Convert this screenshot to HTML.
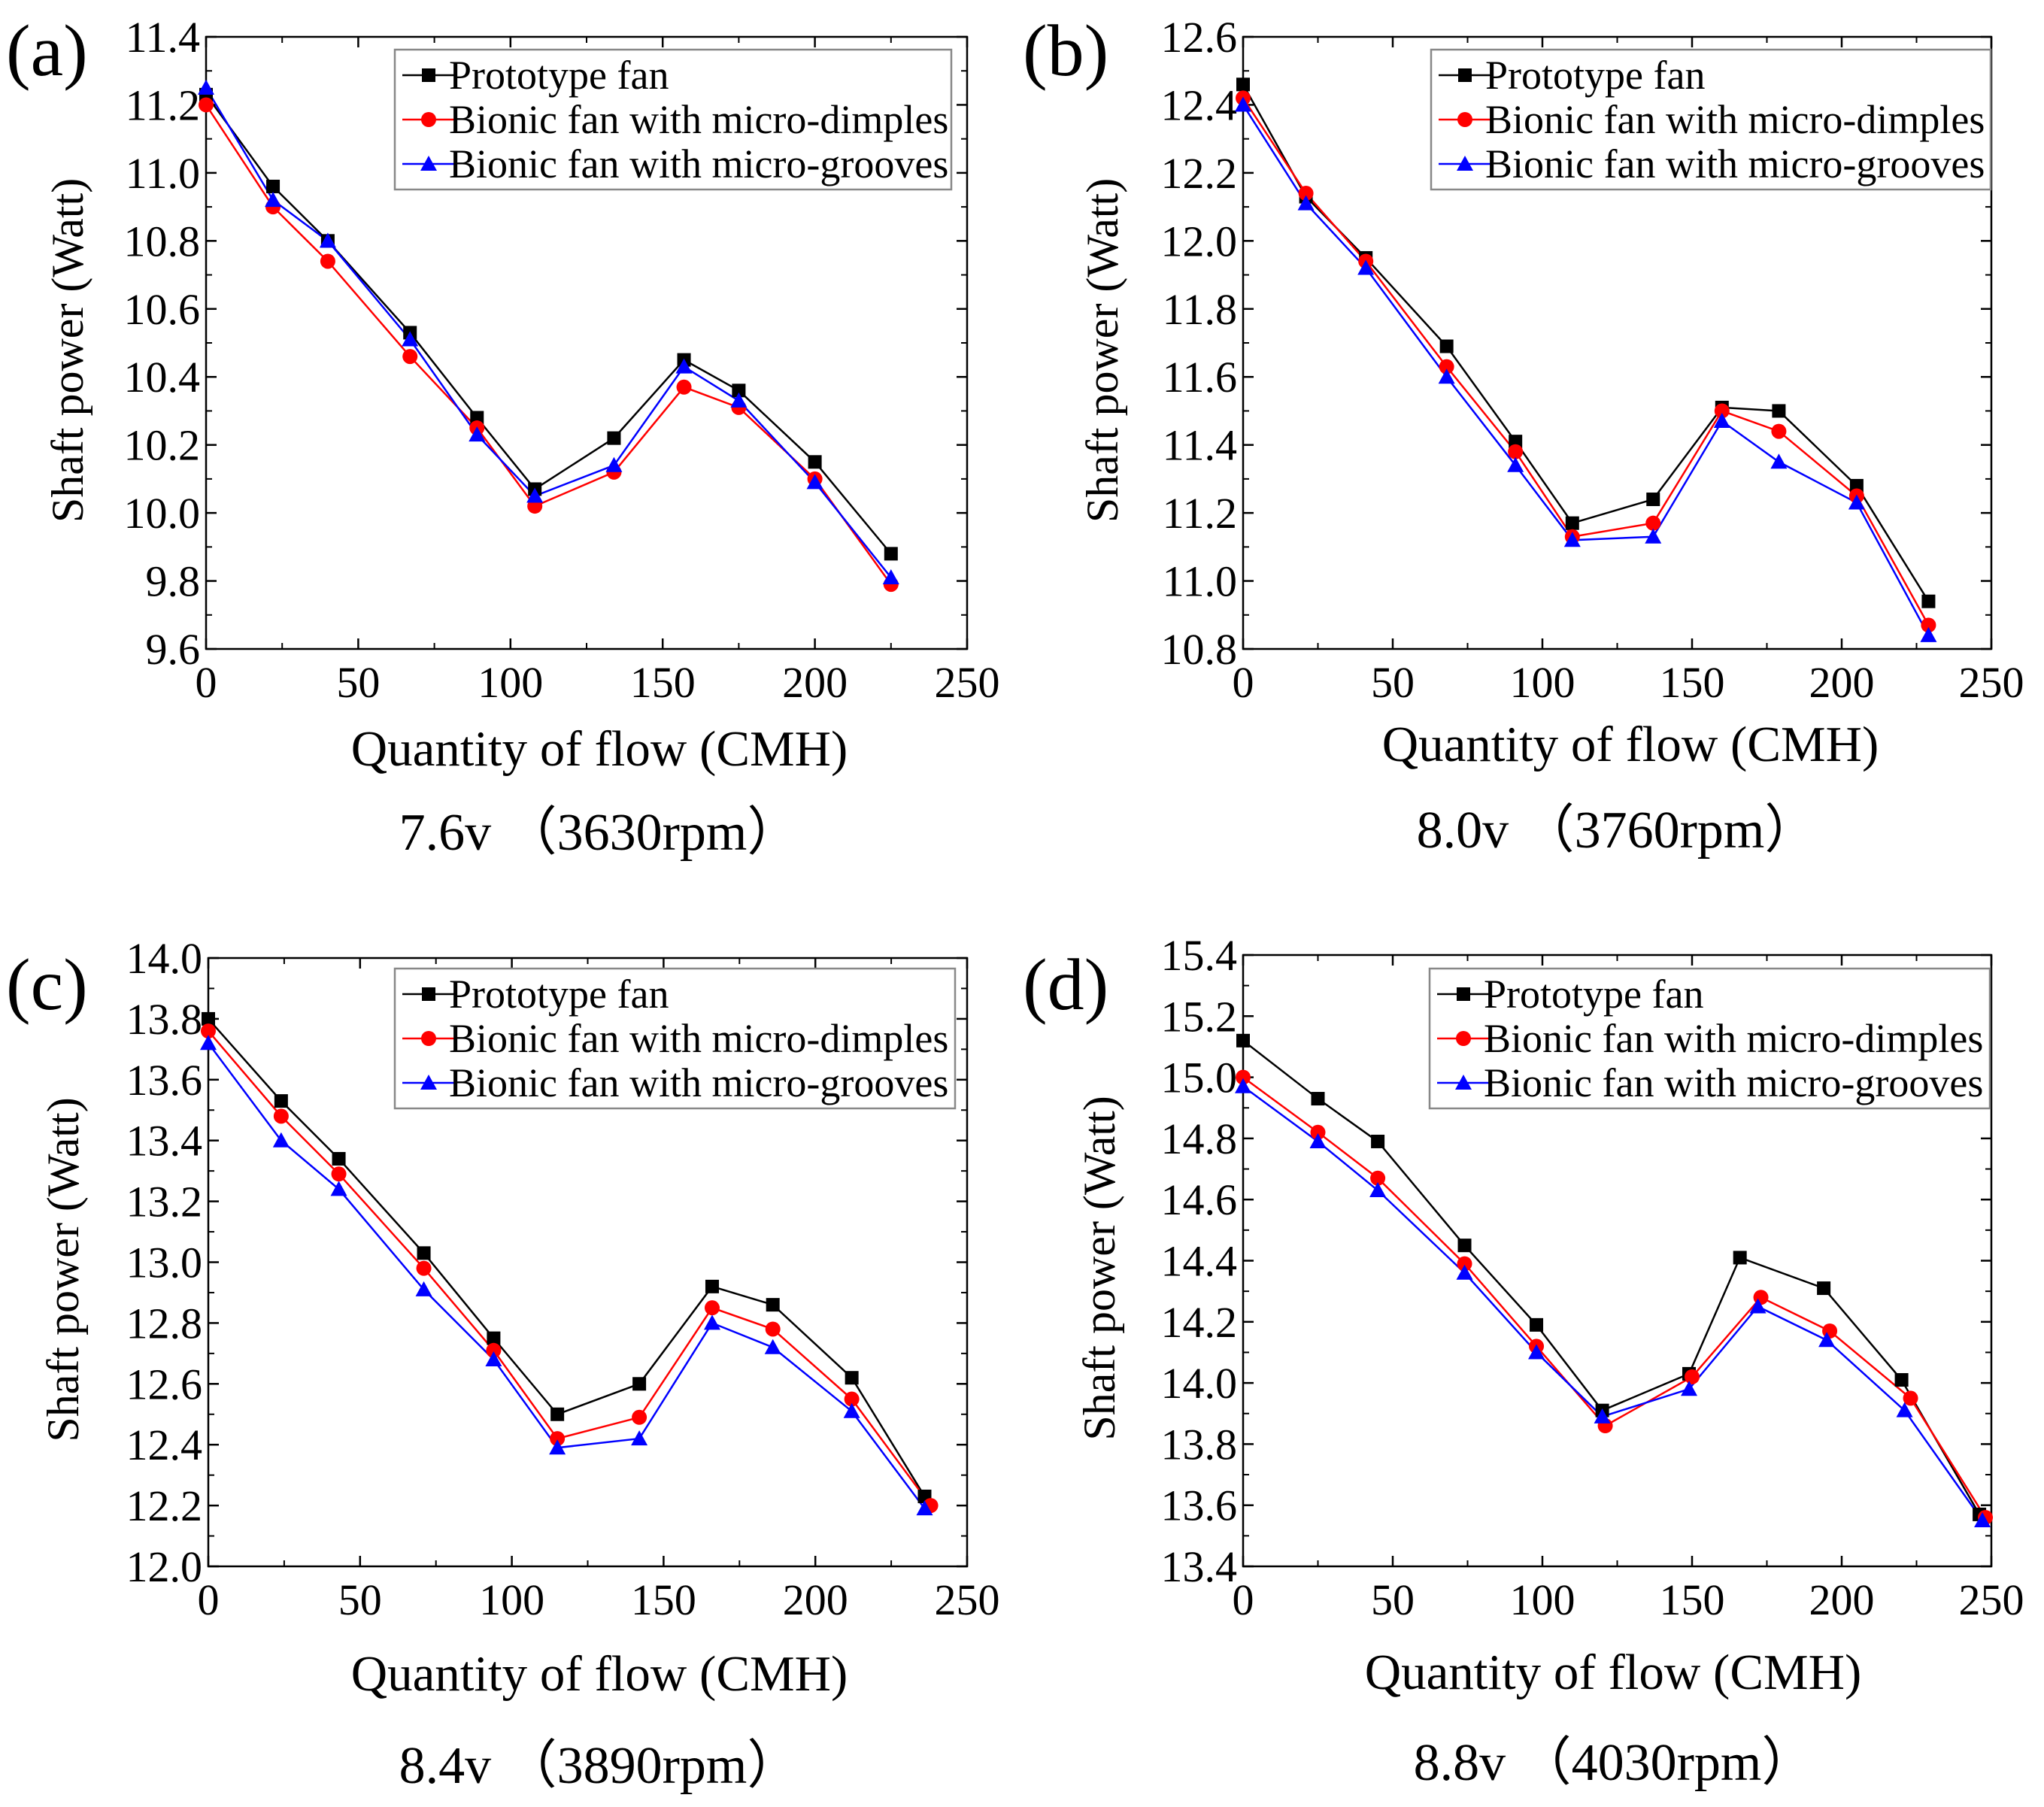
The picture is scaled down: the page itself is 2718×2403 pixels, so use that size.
<!DOCTYPE html>
<html><head><meta charset="utf-8">
<style>
html,body{margin:0;padding:0;background:#fff;}
svg{display:block;}
text{font-family:"Liberation Serif",serif;fill:#000;}
</style></head>
<body>
<svg id="fig" width="2718" height="2403" viewBox="0 0 2718 2403" xmlns="http://www.w3.org/2000/svg"></svg>
<script>
// ---- data ----
const xTicks = [0,50,100,150,200,250];
const legendNames = ["Prototype fan","Bionic fan with micro-dimples","Bionic fan with micro-grooves"];

const aX = [0,22,40,67,89,108,134,157,175,200,225];
const aProto = [11.23,10.96,10.80,10.53,10.28,10.07,10.22,10.45,10.36,10.15,9.88];
const aDimp  = [11.20,10.90,10.74,10.46,10.25,10.02,10.12,10.37,10.31,10.10,9.79];
const aGroov = [11.25,10.92,10.80,10.51,10.23,10.05,10.14,10.43,10.33,10.09,9.81];
const aYTicks = [9.6,9.8,10.0,10.2,10.4,10.6,10.8,11.0,11.2,11.4];

const bX = [0,21,41,68,91,110,137,160,179,205,229];
const bProto = [12.46,12.13,11.95,11.69,11.41,11.17,11.24,11.51,11.50,11.28,10.94];
const bDimp  = [12.42,12.14,11.94,11.63,11.38,11.13,11.17,11.50,11.44,11.25,10.87];
const bGroov = [12.40,12.11,11.92,11.60,11.34,11.12,11.13,11.47,11.35,11.23,10.84];
const bYTicks = [10.8,11.0,11.2,11.4,11.6,11.8,12.0,12.2,12.4,12.6];

const cX = [0,24,43,71,94,115,142,166,186,212,236];
const cXr = [0,24,43,71,94,115,142,166,186,212,238];
const cProto = [13.80,13.53,13.34,13.03,12.75,12.50,12.60,12.92,12.86,12.62,12.23];
const cDimp  = [13.76,13.48,13.29,12.98,12.71,12.42,12.49,12.85,12.78,12.55,12.20];
const cGroov = [13.72,13.40,13.24,12.91,12.68,12.39,12.42,12.80,12.72,12.51,12.19];
const cYTicks = [12.0,12.2,12.4,12.6,12.8,13.0,13.2,13.4,13.6,13.8,14.0];

const dXb = [0,25,45,74,98,120,149,166,194,220,246];
const dXr = [0,25,45,74,98,121,150,173,196,223,248];
const dXg = [0,25,45,74,98,120,149,172,195,221,247];
const dProto = [15.12,14.93,14.79,14.45,14.19,13.91,14.03,14.41,14.31,14.01,13.57];
const dDimp  = [15.00,14.82,14.67,14.39,14.12,13.86,14.02,14.28,14.17,13.95,13.56];
const dGroov = [14.97,14.79,14.63,14.36,14.10,13.89,13.98,14.25,14.14,13.91,13.55];
const dYTicks = [13.4,13.6,13.8,14.0,14.2,14.4,14.6,14.8,15.0,15.2,15.4];

const NS="http://www.w3.org/2000/svg";
const svg=document.getElementById('fig');
function el(tag,attrs,parent,txt){const e=document.createElementNS(NS,tag);for(const k in attrs)e.setAttribute(k,attrs[k]);if(txt!==undefined)e.textContent=txt;(parent||svg).appendChild(e);return e;}

function panel(o){
  const g=el('g',{});
  
  
  const ymin=o.yTicks[0], ymax=o.yTicks[o.yTicks.length-1];
  const sx=v=>o.L+(v-0)/(250)*(o.R-o.L);
  const sy=v=>o.B-(v-ymin)/(ymax-ymin)*(o.B-o.T);
  const fr=el('rect',{x:o.L,y:o.T,width:o.R-o.L,height:o.B-o.T,fill:'none',stroke:'#000','stroke-width':2.5},g);
  
  
  xTicks.forEach((t,i)=>{
    const x=sx(t);
    el('line',{x1:x,y1:o.B,x2:x,y2:o.B-14,stroke:'#000','stroke-width':2.5},g);
    el('line',{x1:x,y1:o.T,x2:x,y2:o.T+14,stroke:'#000','stroke-width':2.5},g);
    if(i<xTicks.length-1){const m=sx(t+25);
      el('line',{x1:m,y1:o.B,x2:m,y2:o.B-8,stroke:'#000','stroke-width':2},g);
      el('line',{x1:m,y1:o.T,x2:m,y2:o.T+8,stroke:'#000','stroke-width':2},g);}
    const tl=el('text',{x:x,y:o.B+64,'font-size':58,'text-anchor':'middle'},g,String(t));
    
    
  });
  o.yTicks.forEach((t,i)=>{
    const y=sy(t);
    el('line',{x1:o.L,y1:y,x2:o.L+14,y2:y,stroke:'#000','stroke-width':2.5},g);
    el('line',{x1:o.R,y1:y,x2:o.R-14,y2:y,stroke:'#000','stroke-width':2.5},g);
    if(i<o.yTicks.length-1){const m=sy(t+0.1);
      el('line',{x1:o.L,y1:m,x2:o.L+8,y2:m,stroke:'#000','stroke-width':2},g);
      el('line',{x1:o.R,y1:m,x2:o.R-8,y2:m,stroke:'#000','stroke-width':2},g);}
    const tl=el('text',{x:o.L-8,y:y+20,'font-size':58,'text-anchor':'end'},g,t.toFixed(1));
    
    
  });
  const series=[
    {x:o.xb,y:o.proto,c:'#000',m:'sq',n:'prototype'},
    {x:o.xr,y:o.dimp,c:'#ff0000',m:'ci',n:'micro-dimples'},
    {x:o.xg,y:o.groov,c:'#0000ff',m:'tr',n:'micro-grooves'}];
  series.forEach(s=>{
    const pts=s.y.map((v,i)=>sx(s.x[i])+','+sy(v)).join(' ');
    const pl=el('polyline',{points:pts,fill:'none',stroke:s.c,'stroke-width':2.5},g);
    
    
  });
  series.forEach(s=>{
    s.y.forEach((v,i)=>{
      const mk=marker(s.m,sx(s.x[i]),sy(v),s.c,g);
      
      
    });
  });
  const lg=el('g',{},g);
  
  
  el('rect',{x:o.lx,y:o.ly,width:o.lw,height:186,fill:'#fff',stroke:'#888','stroke-width':2.5},lg);
  series.forEach((s,i)=>{
    const y=o.ly+34+i*59;
    el('line',{x1:o.lx+10,y1:y,x2:o.lx+80,y2:y,stroke:s.c,'stroke-width':2.5},lg);
    marker(s.m,o.lx+45,y,s.c,lg);
    const t=el('text',{x:o.lx+72,y:y+18,'font-size':54},lg,legendNames[i]);
    
    
  });
  const xt=el('text',{x:o.xtx,y:o.xty,'font-size':67,'text-anchor':'middle'},g,'Quantity of flow (CMH)');
  
  
  const yt=el('text',{x:0,y:0,'font-size':60,'text-anchor':'middle','font-family':'Liberation Sans, sans-serif',transform:`translate(${o.ytx},${(o.T+o.B)/2+10}) rotate(-90)`},g,'Shaft power (Watt)');
  
  
  const cap=el('text',{x:o.capx,y:o.capy,'font-size':70,'text-anchor':'middle'},g,o.cap);
  
  
  const pl=el('text',{x:o.plx,y:o.ply,'font-size':98},g,'('+o.id+')');
  
  
}
function marker(m,x,y,c,p){
  if(m==='sq')return el('rect',{x:x-9,y:y-9,width:18,height:18,fill:c},p);
  if(m==='ci')return el('circle',{cx:x,cy:y,r:10,fill:c},p);
  return el('polygon',{points:`${x},${y-11} ${x-11},${y+9} ${x+11},${y+9}`,fill:c},p);
}

panel({id:'a',L:274,R:1286,T:49,B:863,yTicks:aYTicks,xb:aX,xr:aX,xg:aX,proto:aProto,dimp:aDimp,groov:aGroov,
  lx:525,ly:66,lw:740,xtx:797,xty:1018,ytx:110,capx:797,capy:1130,cap:'7.6v （3630rpm）',plx:8,ply:100});
panel({id:'b',L:1653,R:2648,T:49,B:863,yTicks:bYTicks,xb:bX,xr:bX,xg:bX,proto:bProto,dimp:bDimp,groov:bGroov,
  lx:1903,ly:66,lw:744,xtx:2168,xty:1012,ytx:1486,capx:2150,capy:1127,cap:'8.0v （3760rpm）',plx:1360,ply:100});
panel({id:'c',L:277,R:1286,T:1274,B:2083,yTicks:cYTicks,xb:cX,xr:cXr,xg:cX,proto:cProto,dimp:cDimp,groov:cGroov,
  lx:525,ly:1288,lw:745,xtx:797,xty:2248,ytx:104,capx:797,capy:2371,cap:'8.4v （3890rpm）',plx:8,ply:1342});
panel({id:'d',L:1653,R:2648,T:1270,B:2083,yTicks:dYTicks,xb:dXb,xr:dXr,xg:dXg,proto:dProto,dimp:dDimp,groov:dGroov,
  lx:1901,ly:1288,lw:745,xtx:2145,xty:2246,ytx:1482,capx:2146,capy:2367,cap:'8.8v （4030rpm）',plx:1360,ply:1342});
</script>
</body></html>
